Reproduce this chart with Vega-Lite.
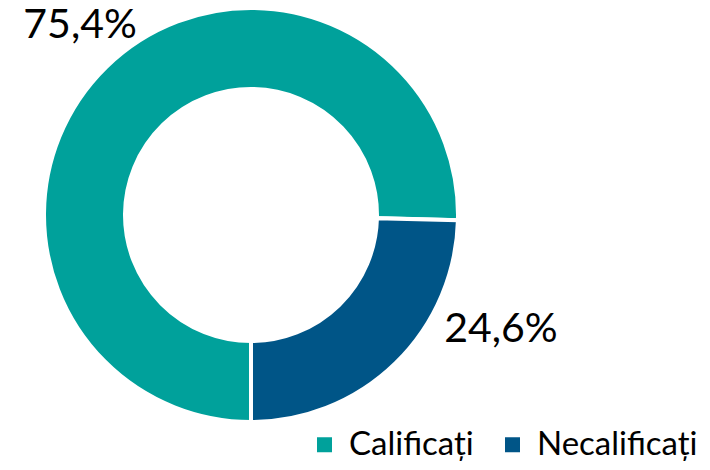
{
  "$schema": "https://vega.github.io/schema/vega-lite/v6.json",
  "width": 502,
  "height": 430,
  "padding": {"left": 0, "top": 0, "right": 208, "bottom": 40},
  "autosize": {"type": "none"},
  "background": "white",
  "config": {"view": {"stroke": null}, "font": "Lato"},
  "data": {
    "values": [
      {"category": "Calificați", "value": 75.4, "label": "75,4%"},
      {"category": "Necalificați", "value": 24.6, "label": "24,6%"}
    ]
  },
  "encoding": {
    "theta": {"field": "value", "type": "quantitative", "stack": true, "scale": {"range": [3.14159265, 9.42477796]}},
    "order": {"field": "value", "type": "quantitative", "sort": "descending"},
    "color": {
      "field": "category",
      "type": "nominal",
      "scale": {"domain": ["Calificați", "Necalificați"], "range": ["#00A19B", "#005587"]},
      "legend": {
        "orient": "none",
        "legendX": 308,
        "legendY": 428,
        "direction": "horizontal",
        "title": null,
        "symbolType": "square",
        "symbolSize": 225,
        "symbolStrokeWidth": 0,
        "labelFontSize": 33,
        "labelFont": "Lato",
        "labelColor": "#000000",
        "labelOffset": 8,
        "columnPadding": 22,
        "labelLimit": 300
      }
    }
  },
  "layer": [
    {
      "mark": {"type": "arc", "innerRadius": 126, "outerRadius": 207, "stroke": "white", "strokeWidth": 4}
    },
    {
      "mark": {"type": "text", "radius": 262, "fontSize": 41, "font": "Lato", "dx": 12, "dy": -1, "baseline": "middle", "align": "center"},
      "encoding": {
        "text": {"condition": {"test": "datum.category === 'Calificați'", "field": "label"}, "value": ""},
        "color": {"value": "#000000"}
      }
    },
    {
      "mark": {"type": "text", "radius": 262, "fontSize": 41, "font": "Lato", "dx": 67, "dy": -73, "baseline": "middle", "align": "center"},
      "encoding": {
        "text": {"condition": {"test": "datum.category === 'Necalificați'", "field": "label"}, "value": ""},
        "color": {"value": "#000000"}
      }
    }
  ]
}
